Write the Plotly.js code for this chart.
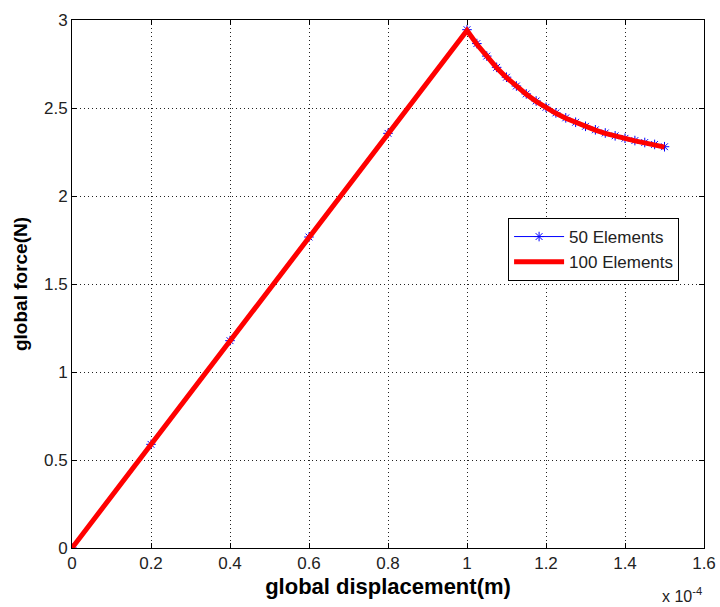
<!DOCTYPE html>
<html>
<head>
<meta charset="utf-8">
<script src="https://cdn.plot.ly/plotly-3.0.1.min.js"></script>
<style>html,body{margin:0;padding:0;background:#fff;}#chart{width:720px;height:607px;}</style>
</head>
<body>
<div id="chart"></div>
<script>
// displacement in units of 1e-4 m
const x50 = [0, 0.2, 0.4, 0.6, 0.8, 1.0, 1.025, 1.05, 1.075, 1.1, 1.125, 1.15, 1.175, 1.2, 1.225, 1.25, 1.275, 1.3, 1.325, 1.35, 1.375, 1.4, 1.425, 1.45, 1.475, 1.5];
const f50 = [0, 0.589, 1.178, 1.767, 2.356, 2.945, 2.866, 2.795, 2.731, 2.675, 2.625, 2.58, 2.54, 2.504, 2.472, 2.444, 2.419, 2.396, 2.376, 2.358, 2.342, 2.328, 2.315, 2.304, 2.293, 2.28];
const x100 = [0, 0.2, 0.4, 0.6, 0.8, 1.0, 1.025, 1.05, 1.075, 1.1, 1.125, 1.15, 1.175, 1.2, 1.225, 1.25, 1.275, 1.3, 1.325, 1.35, 1.375, 1.4, 1.425, 1.45, 1.475, 1.5];
const f100 = [0, 0.588, 1.176, 1.764, 2.352, 2.94, 2.862, 2.792, 2.729, 2.673, 2.623, 2.578, 2.538, 2.502, 2.47, 2.442, 2.417, 2.394, 2.374, 2.356, 2.34, 2.326, 2.313, 2.302, 2.291, 2.278];
const xTicks = [0, 0.2, 0.4, 0.6, 0.8, 1, 1.2, 1.4, 1.6];
const yTicks = [0, 0.5, 1, 1.5, 2, 2.5, 3];
const seriesNames = ['50 Elements', '100 Elements'];

const font = 'Liberation Sans, Arial, sans-serif';
const traces = [
  {x: x50, y: f50, name: seriesNames[0], mode: 'lines+markers', type: 'scatter',
   line: {color: '#0000ff', width: 1},
   marker: {symbol: 'asterisk-open', size: 8, color: '#0000ff', line: {color: '#0000ff', width: 1}}},
  {x: x100, y: f100, name: seriesNames[1], mode: 'lines', type: 'scatter',
   line: {color: '#ff0000', width: 5}}
];
const axisCommon = {
  showline: true, linecolor: '#000', linewidth: 1, mirror: 'ticks',
  ticks: 'inside', ticklen: 5, tickcolor: '#000',
  showgrid: true, gridcolor: '#222', griddash: '1px,3px', gridwidth: 1,
  zeroline: false, tickfont: {family: font, size: 17, color: '#222'}
};
const layout = {
  width: 720, height: 607,
  margin: {l: 72, r: 16, t: 20, b: 59},
  paper_bgcolor: '#fff', plot_bgcolor: '#fff',
  showlegend: true,
  legend: {x: 0.69, y: 0.625, xanchor: 'left', yanchor: 'top',
    bordercolor: '#000', borderwidth: 1, bgcolor: '#fff',
    font: {family: font, size: 17, color: '#222'}, itemwidth: 50, tracegroupgap: 0},
  xaxis: Object.assign({}, axisCommon, {
    range: [0, 1.6], tickvals: xTicks, ticktext: xTicks.map(String),
    title: {text: '<b>global displacement(m)</b>', font: {family: font, size: 22, color: '#000'}, standoff: 6}
  }),
  yaxis: Object.assign({}, axisCommon, {
    range: [0, 3], tickvals: yTicks, ticktext: yTicks.map(String),
    title: {text: '<b>global force(N)</b>', font: {family: font, size: 19, color: '#000'}, standoff: 11}
  }),
  annotations: [{
    xref: 'paper', yref: 'paper', x: 1.0, y: -0.089, xanchor: 'right', yanchor: 'middle',
    text: 'x 10<sup>-4</sup>', showarrow: false, font: {family: font, size: 16, color: '#222'}
  }]
};
Plotly.newPlot('chart', traces, layout, {displayModeBar: false});
</script>
</body>
</html>
